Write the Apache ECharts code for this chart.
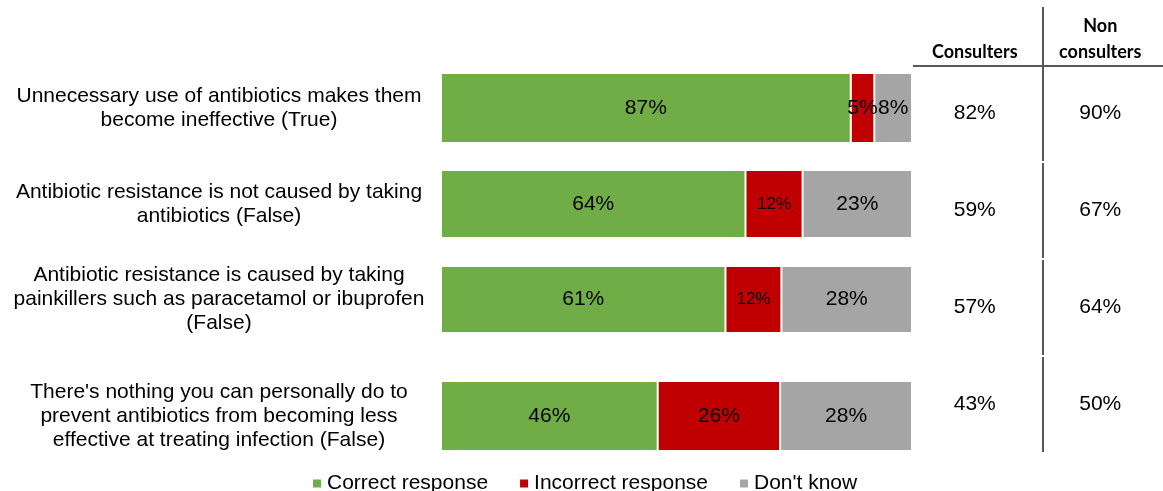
<!DOCTYPE html>
<html>
<head>
<meta charset="utf-8">
<script src="https://cdn.jsdelivr.net/npm/echarts@6/dist/echarts.min.js"></script>
<style>
  html, body { margin: 0; padding: 0; background: #fff; }
  #chart { width: 1163px; height: 491px; }
</style>
</head>
<body>
<div id="chart"></div>
<script>
// Statements shown on each row
const statements = [
  "Unnecessary use of antibiotics makes them\nbecome ineffective (True)",
  "Antibiotic resistance is not caused by taking\nantibiotics (False)",
  "Antibiotic resistance is caused by taking\npainkillers such as paracetamol or ibuprofen\n(False)",
  "There's nothing you can personally do to\nprevent antibiotics from becoming less\neffective at treating infection (False)"
];
// Share of answers (%)
const correct   = [87, 64, 61, 46];
const incorrect = [5, 12, 12, 26];
const dontKnow  = [8, 23, 28, 28];
// Correct answers split by group (%)
const tableHeaders = ["Consulters", "Non\nconsulters"];
const consulters    = [82, 59, 57, 43];
const nonConsulters = [90, 67, 64, 50];

const seriesNames = ["Correct response", "Incorrect response", "Don't know"];
const seriesColors = ["#70AD47", "#C00000", "#A5A5A5"];
const seriesValues = [correct, incorrect, dontKnow];

const FONT = "'Liberation Sans', Arial, sans-serif";

// vertical layout of the four bar rows and of the table cells (top, height in px)
const rowBoxes  = [[73, 70], [170, 68], [266, 67], [381, 70]];
const cellBoxes = [[66, 95], [162, 96], [259, 96], [356, 96]];

const grids = [], xAxes = [], yAxes = [], series = [];

rowBoxes.forEach(([top, h], i) => {
  // each bar spans the full width of its row total
  const rowTotal = correct[i] + incorrect[i] + dontKnow[i];

  grids.push({ left: 441, width: 471, top: top, height: h });
  const gi = grids.length - 1;
  xAxes.push({ type: 'value', gridIndex: gi, min: 0, max: rowTotal, show: false });
  yAxes.push({
    type: 'category', gridIndex: gi, data: [statements[i]],
    axisLine: { show: false }, axisTick: { show: false },
    axisLabel: {
      margin: 222, align: 'center', fontFamily: FONT, fontSize: 21, color: '#000',
      lineHeight: 24, padding: [4, 0, 0, 0]
    }
  });
  seriesValues.forEach((vals, s) => {
    series.push({
      type: 'bar', name: seriesNames[s], stack: 'row' + i,
      xAxisIndex: gi, yAxisIndex: gi,
      barWidth: '100%',
      itemStyle: { color: seriesColors[s], borderColor: '#fff', borderWidth: 1 },
      label: {
        show: true, position: 'inside', fontFamily: FONT, color: '#000',
        fontSize: (s === 1 && vals[i] >= 10 && vals[i] < 15) ? 17 : 21,
        formatter: p => p.value + '%'
      },
      data: [vals[i]]
    });
  });

  // table cells for the two groups
  const [ctop, ch] = cellBoxes[i];
  grids.push({ left: 912, width: 262, top: ctop, height: ch });
  const ti = grids.length - 1;
  xAxes.push({
    type: 'category', gridIndex: ti, data: tableHeaders, position: 'top',
    axisLine: { show: false }, axisTick: { show: false },
    axisLabel: i === 0 ? {
      show: true, margin: 1, fontFamily: "Lato, 'Open Sans', sans-serif", fontWeight: 'bold',
      fontSize: 18, color: '#000', lineHeight: 26, verticalAlign: 'bottom'
    } : { show: false }
  });
  yAxes.push({ type: 'category', gridIndex: ti, data: [''], show: false });
  const groupVals = [consulters[i], nonConsulters[i]];
  series.push({
    type: 'scatter', xAxisIndex: ti, yAxisIndex: ti, symbolSize: 0,
    itemStyle: { opacity: 1 },
    label: {
      show: true, position: 'inside', fontFamily: FONT, fontSize: 21, color: '#000',
      formatter: p => groupVals[p.dataIndex] + '%'
    },
    data: [[0, 0], [1, 0]]
  });
});

// table rules
const ruleStyle = { stroke: '#595959', lineWidth: 2 };
const graphic = [
  { type: 'line', shape: { x1: 913, y1: 66, x2: 1163, y2: 66 }, style: ruleStyle },
  { type: 'line', shape: { x1: 1043, y1: 7, x2: 1043, y2: 161 }, style: ruleStyle },
  { type: 'line', shape: { x1: 1043, y1: 163, x2: 1043, y2: 258 }, style: ruleStyle },
  { type: 'line', shape: { x1: 1043, y1: 260, x2: 1043, y2: 355 }, style: ruleStyle },
  { type: 'line', shape: { x1: 1043, y1: 357, x2: 1043, y2: 452 }, style: ruleStyle }
];

const chart = echarts.init(document.getElementById('chart'));
chart.setOption({
  animation: false,
  grid: grids,
  xAxis: xAxes,
  yAxis: yAxes,
  series: series,
  graphic: graphic,
  legend: {
    data: seriesNames.map((n, k) => ({ name: n, itemStyle: { color: seriesColors[k] } })),
    left: 306, top: 468, icon: 'rect', itemWidth: 10, itemHeight: 10, itemGap: 30,
    textStyle: { fontFamily: FONT, fontSize: 21, color: '#000' }
  }
});
</script>
</body>
</html>
